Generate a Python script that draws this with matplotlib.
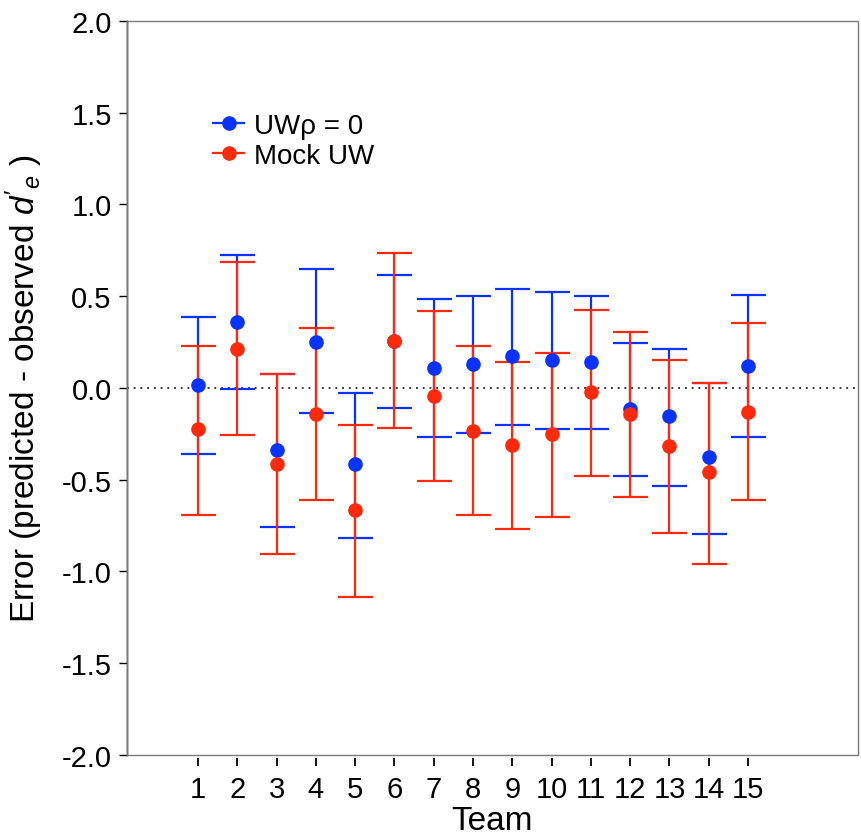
import numpy as np
import matplotlib
matplotlib.use("Agg")
import matplotlib.pyplot as plt
from matplotlib.patches import Rectangle
from matplotlib.lines import Line2D
from matplotlib.ticker import FormatStrFormatter

plt.rcParams['font.family'] = ['Liberation Sans', 'DejaVu Sans']
plt.rcParams['axes.unicode_minus'] = False
plt.rcParams['mathtext.fontset'] = 'custom'
plt.rcParams['mathtext.rm'] = 'Liberation Sans'
plt.rcParams['mathtext.it'] = 'Liberation Sans:italic'

# values
teams = np.arange(1, 16)
uw_mean = [0.015, 0.362, -0.336, 0.253, -0.416, 0.255, 0.108, 0.132, 0.173, 0.150,
           0.141, -0.112, -0.155, -0.378, 0.121]
uw_low = [-0.362, -0.003, -0.755, -0.137, -0.819, -0.108, -0.266, -0.244, -0.200, -0.222,
          -0.222, -0.482, -0.532, -0.794, -0.269]
uw_high = [0.384, 0.727, 0.075, 0.647, -0.026, 0.616, 0.487, 0.502, 0.540, 0.522,
           0.502, 0.246, 0.213, 0.028, 0.507]

mock_mean = [-0.226, 0.210, -0.414, -0.141, -0.667, 0.255, -0.045, -0.233, -0.309, -0.253,
             -0.024, -0.142, -0.315, -0.458, -0.130]
mock_low = [-0.690, -0.255, -0.906, -0.609, -1.137, -0.219, -0.507, -0.692, -0.766, -0.703,
            -0.480, -0.592, -0.788, -0.961, -0.610]
mock_high = [0.231, 0.685, 0.075, 0.326, -0.204, 0.736, 0.420, 0.226, 0.142, 0.188,
             0.427, 0.306, 0.155, 0.028, 0.355]

labels = ['UWρ = 0', 'Mock UW']
BLUE = '#0a32ff'
RED = '#ff2a0a'
LW = 1.6

fig = plt.figure(figsize=(8.61, 8.37), dpi=100)
ax = fig.add_axes([0.1475, 0.0968, 0.849, 0.877])


def draw(mean, low, high, color):
    mean = np.array(mean)
    err = np.vstack([mean - np.array(low), np.array(high) - mean])
    ax.errorbar(teams, mean, yerr=err, fmt='o', color=color, ecolor=color,
                markersize=9.5, elinewidth=LW, capsize=12.6, capthick=LW)


draw(uw_mean, uw_low, uw_high, BLUE)
draw(mock_mean, mock_low, mock_high, RED)

ax.axhline(0, color='black', lw=1.1, linestyle=(0, (1.2, 3.2)), zorder=0)

ax.set_xlim(-0.81, 17.8)
ax.set_ylim(-2.0, 2.0)
ax.set_yticks(np.arange(-2.0, 2.01, 0.5))
ax.yaxis.set_major_formatter(FormatStrFormatter('%.1f'))
ax.set_xticks(teams)

# box drawn separately, x ticks sit slightly below it
for side in ['top', 'right']:
    ax.spines[side].set_visible(False)
ax.spines['left'].set_color('black')
ax.spines['left'].set_linewidth(1.0)
ax.add_patch(Rectangle((0, 0), 1, 1, transform=ax.transAxes, fill=False,
                       edgecolor='#7a7a7a', lw=1.0, clip_on=False, zorder=5))
ax.spines['bottom'].set_color('none')
ax.spines['bottom'].set_position(('outward', 2))

ax.tick_params(axis='y', direction='out', length=6, width=1.0, pad=5,
               labelsize=21)
ax.tick_params(axis='x', direction='out', length=5.5, width=1.3, pad=7,
               labelsize=21)

ax.set_xlabel('Team', fontsize=24, labelpad=1)
ax.set_ylabel("Error (predicted - observed $d'_{e}$ )", fontsize=24, labelpad=12)

hl = [Line2D([], [], color=BLUE, marker='o', markersize=9.5, lw=LW),
      Line2D([], [], color=RED, marker='o', markersize=9.5, lw=LW)]
ax.legend(hl, labels, loc='upper left', bbox_to_anchor=(0.118, 0.875),
          frameon=False, fontsize=20, handlelength=1.1, handletextpad=0.35,
          labelspacing=0.15, borderpad=0, borderaxespad=0)

fig.savefig('out.png', dpi=100)
